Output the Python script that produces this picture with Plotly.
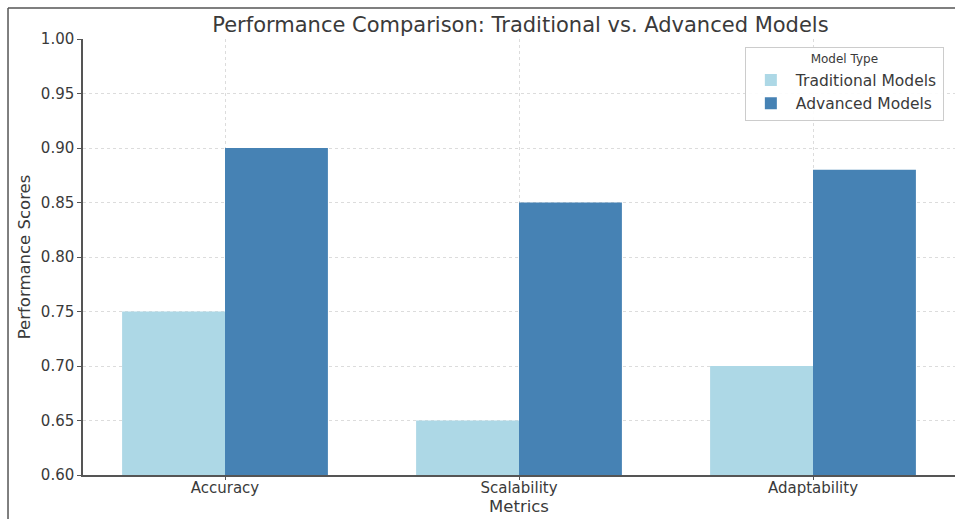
import plotly.graph_objects as go

# Scores per metric for each model family
metrics = ["Accuracy", "Scalability", "Adaptability"]
traditional_scores = [0.75, 0.65, 0.70]
advanced_scores = [0.90, 0.85, 0.88]
y_ticks = [0.60, 0.65, 0.70, 0.75, 0.80, 0.85, 0.90, 0.95, 1.00]

FONT = "DejaVu Sans"
TEXT = "#3a3a3a"

fig = go.Figure()
fig.add_trace(go.Bar(
    name="Traditional Models", x=list(range(len(metrics))), y=traditional_scores,
    marker=dict(color="#ADD8E6", line=dict(width=0)), width=0.35, offset=-0.35,
))
fig.add_trace(go.Bar(
    name="Advanced Models", x=list(range(len(metrics))), y=advanced_scores,
    marker=dict(color="#4682B4", line=dict(width=0)), width=0.35, offset=0,
))

fig.update_layout(
    width=955, height=519,
    margin=dict(l=83, r=0, t=39, b=44),
    paper_bgcolor="white", plot_bgcolor="white",
    font=dict(family=FONT, color=TEXT, size=14),
    barmode="overlay",
    title=dict(
        text="Performance Comparison: Traditional vs. Advanced Models",
        x=0.545, xanchor="center", y=0.953, yanchor="middle",
        font=dict(size=21, color=TEXT, family=FONT),
    ),
    xaxis=dict(
        tickmode="array", tickvals=list(range(len(metrics))), ticktext=metrics,
        range=[-0.483, 2.483],
        showline=True, linecolor="#555555", linewidth=1.5,
        ticks="outside", ticklen=3, tickcolor="#555555",
        ticklabelstandoff=-5,
        showgrid=True, gridcolor="#dcdcdc", griddash="dot", gridwidth=1,
        tickfont=dict(size=15, color=TEXT),
        title=dict(text="Metrics", font=dict(size=16.5, color=TEXT), standoff=0),
        zeroline=False,
    ),
    yaxis=dict(
        range=[0.60, 1.00], tickmode="array", tickvals=y_ticks,
        ticktext=[f"{v:.2f}" for v in y_ticks],
        showline=True, linecolor="#555555", linewidth=1.5,
        ticks="outside", ticklen=4, tickcolor="#555555",
        showgrid=True, gridcolor="#dcdcdc", griddash="dot", gridwidth=1,
        tickfont=dict(size=15, color=TEXT),
        title=dict(text="Performance Scores", font=dict(size=16.5, color=TEXT), standoff=6),
        zeroline=False,
    ),
    legend=dict(
        title=dict(text="Model Type", font=dict(size=12, color=TEXT), side="top center"),
        x=0.759, y=0.982, xanchor="left", yanchor="top",
        bordercolor="#cccccc", borderwidth=1, bgcolor="rgba(255,255,255,0.9)",
        font=dict(size=15.5, color=TEXT), itemsizing="constant", itemwidth=40,
        tracegroupgap=0,
    ),
    showlegend=True,
)

# Frame lines along the top and left of the figure
fig.add_shape(type="line", xref="paper", yref="paper",
              x0=-0.086, x1=1.01, y0=1.0711, y1=1.0711,
              line=dict(color="#555555", width=1.5))
fig.add_shape(type="line", xref="paper", yref="paper",
              x0=-0.086, x1=-0.086, y0=1.0711, y1=-0.11,
              line=dict(color="#555555", width=1.5))

fig.write_html("out.html")
